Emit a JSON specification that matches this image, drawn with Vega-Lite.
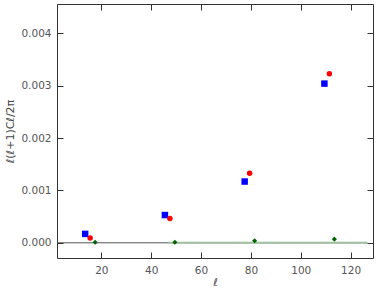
{
  "$schema": "https://vega.github.io/schema/vega-lite/v6.json",
  "width": 316,
  "height": 254,
  "autosize": {"type": "none"},
  "padding": {"left": 57, "top": 4, "right": 9, "bottom": 34},
  "background": "white",
  "config": {
    "view": {"stroke": "#333333", "strokeWidth": 1},
    "axis": {
      "domain": false,
      "grid": false,
      "labelFont": "DejaVu Sans",
      "labelFontSize": 10.5,
      "labelColor": "#555555",
      "titleFont": "DejaVu Sans",
      "titleFontWeight": "normal",
      "titleColor": "#444444",
      "titleFontSize": 11
    }
  },
  "datasets": {
    "blue": [
      {"l": 13.5, "v": 0.00017},
      {"l": 45.5, "v": 0.00053},
      {"l": 77.5, "v": 0.00117},
      {"l": 109.5, "v": 0.00304}
    ],
    "red": [
      {"l": 15.5, "v": 0.00009},
      {"l": 47.5, "v": 0.000465},
      {"l": 79.5, "v": 0.00133},
      {"l": 111.5, "v": 0.00323}
    ],
    "green": [
      {"l": 17.5, "v": 0.00001},
      {"l": 49.5, "v": 0.00001},
      {"l": 81.5, "v": 0.00004},
      {"l": 113.5, "v": 0.00007}
    ],
    "zero": [
      {"l": 2.2, "v": 0},
      {"l": 126.7, "v": 0}
    ],
    "theory": [
      {"l": 47, "v": 0.000003},
      {"l": 126.7, "v": 0.000003}
    ]
  },
  "resolve": {"axis": {"x": "independent", "y": "independent"}},
  "layer": [
    {
      "data": {"name": "zero"},
      "mark": {"type": "line", "color": "#555555", "strokeWidth": 1},
      "encoding": {
        "x": {"field": "l", "type": "quantitative", "scale": {"domain": [2.2, 129], "nice": false, "zero": false},
          "axis": {"orient": "bottom", "values": [20, 40, 60, 80, 100, 120], "ticks": true, "tickColor": "#333333", "tickWidth": 1, "zindex": 1, "tickSize": -6, "labelPadding": 13, "title": "ℓ", "titlePadding": 1}},
        "y": {"field": "v", "type": "quantitative", "scale": {"domain": [-0.00029, 0.00456], "nice": false, "zero": false},
          "axis": {"orient": "left", "values": [0, 0.001, 0.002, 0.003, 0.004], "format": ".3f", "ticks": true, "tickColor": "#333333", "tickWidth": 1, "zindex": 1, "tickSize": -6, "labelPadding": 12, "title": "ℓ(ℓ+1)Cℓ/2π", "titlePadding": 5}}
      }
    },
    {
      "data": {"name": "theory"},
      "mark": {"type": "line", "color": "#9cc09c", "strokeWidth": 1.6},
      "encoding": {
        "x": {"field": "l", "type": "quantitative", "scale": {"domain": [2.2, 129], "nice": false, "zero": false},
          "axis": {"orient": "top", "values": [20, 40, 60, 80, 100, 120], "ticks": true, "tickColor": "#333333", "zindex": 1, "tickSize": -6, "labels": false, "title": null}},
        "y": {"field": "v", "type": "quantitative", "scale": {"domain": [-0.00029, 0.00456], "nice": false, "zero": false},
          "axis": {"orient": "right", "values": [0, 0.001, 0.002, 0.003, 0.004], "ticks": true, "tickColor": "#333333", "zindex": 1, "tickSize": -6, "labels": false, "title": null}}
      }
    },
    {
      "data": {"name": "blue"},
      "mark": {"type": "point", "shape": "square", "filled": true, "color": "#0000ff", "size": 42, "opacity": 1},
      "encoding": {
        "x": {"field": "l", "type": "quantitative", "scale": {"domain": [2.2, 129], "nice": false, "zero": false}, "axis": null},
        "y": {"field": "v", "type": "quantitative", "scale": {"domain": [-0.00029, 0.00456], "nice": false, "zero": false}, "axis": null}
      }
    },
    {
      "data": {"name": "red"},
      "mark": {"type": "point", "shape": "circle", "filled": true, "color": "#ff0000", "size": 30, "opacity": 1},
      "encoding": {
        "x": {"field": "l", "type": "quantitative", "scale": {"domain": [2.2, 129], "nice": false, "zero": false}, "axis": null},
        "y": {"field": "v", "type": "quantitative", "scale": {"domain": [-0.00029, 0.00456], "nice": false, "zero": false}, "axis": null}
      }
    },
    {
      "data": {"name": "green"},
      "mark": {"type": "point", "shape": "diamond", "filled": true, "color": "#006400", "size": 26, "opacity": 1},
      "encoding": {
        "x": {"field": "l", "type": "quantitative", "scale": {"domain": [2.2, 129], "nice": false, "zero": false}, "axis": null},
        "y": {"field": "v", "type": "quantitative", "scale": {"domain": [-0.00029, 0.00456], "nice": false, "zero": false}, "axis": null}
      }
    }
  ]
}
